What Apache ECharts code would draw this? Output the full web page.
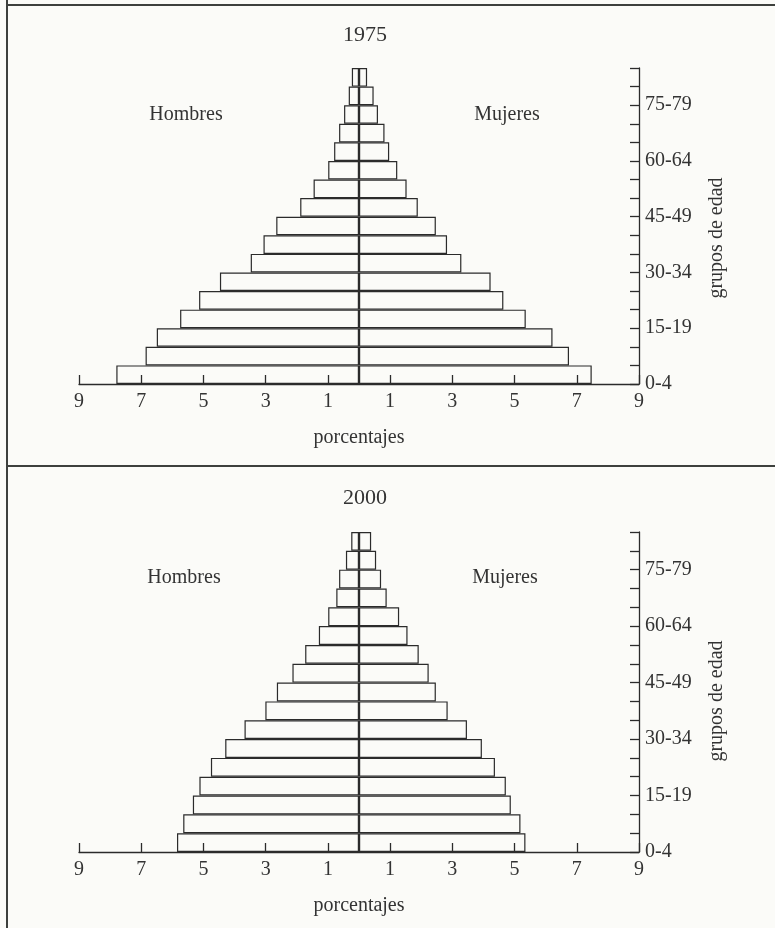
<!DOCTYPE html>
<html>
<head>
<meta charset="utf-8">
<title>Pirámides de población 1975 y 2000</title>
<script src="https://cdn.jsdelivr.net/npm/echarts@6/dist/echarts.min.js"></script>
<style>
  html, body { margin: 0; padding: 0; background: #fbfbf8; }
  #chart { width: 775px; height: 928px; }
</style>
</head>
<body>
<div id="chart"></div>
<script>
// grupos de edad, de abajo hacia arriba
var edades = ['0-4', '5-9', '10-14', '15-19', '20-24', '25-29', '30-34', '35-39', '40-44',
  '45-49', '50-54', '55-59', '60-64', '65-69', '70-74', '75-79', '80+']

// porcentajes
var hombres1975 = [7.8, 6.86, 6.5, 5.75, 5.14, 4.47, 3.48, 3.07, 2.66, 1.89, 1.46, 0.99, 0.8, 0.64, 0.48, 0.33, 0.23]
var mujeres1975 = [7.48, 6.75, 6.22, 5.36, 4.64, 4.23, 3.29, 2.83, 2.47, 1.89, 1.53, 1.23, 0.97, 0.82, 0.61, 0.47, 0.26]
var hombres2000 = [5.85, 5.65, 5.34, 5.13, 4.76, 4.3, 3.68, 3.01, 2.64, 2.14, 1.73, 1.29, 0.99, 0.73, 0.64, 0.42, 0.25]
var mujeres2000 = [5.35, 5.19, 4.88, 4.72, 4.37, 3.95, 3.47, 2.85, 2.47, 2.24, 1.92, 1.56, 1.29, 0.89, 0.71, 0.55, 0.39]

var ticksX = [-9, -7, -5, -3, -1, 1, 3, 5, 7, 9]

var fuente = 'Liberation Serif'
var tinta = '#2b2b2b'
var texto = '#333'

function ejeX(grid) {
  return {
    type: 'value',
    gridIndex: grid,
    min: -9,
    max: 9,
    name: 'porcentajes',
    nameLocation: 'middle',
    nameGap: 44,
    nameTextStyle: { fontFamily: fuente, fontSize: 20, color: texto },
    axisLine: { show: true, onZero: false, lineStyle: { color: tinta, width: 1.3 } },
    axisTick: { show: true, inside: true, length: 9, customValues: ticksX, lineStyle: { color: tinta, width: 1.3 } },
    axisLabel: {
      customValues: ticksX,
      margin: 8,
      fontFamily: fuente,
      fontSize: 20,
      color: texto,
      formatter: function(v) { return String(Math.abs(v)) }
    },
    splitLine: { show: false }
  }
}

function ejesY(grid) {
  return [{
    type: 'category',
    gridIndex: grid,
    data: edades,
    show: false
  }, {
    type: 'value',
    gridIndex: grid,
    position: 'right',
    min: 0,
    max: edades.length,
    interval: 1,
    axisLine: { show: true, onZero: false, lineStyle: { color: tinta, width: 1.3 } },
    axisTick: { show: true, inside: true, length: 9, lineStyle: { color: tinta, width: 1.3 } },
    axisLabel: {
      margin: 6,
      fontFamily: fuente,
      fontSize: 20,
      color: texto,
      formatter: function(v) { return v % 3 === 0 && v < 16 ? edades[v] : '' }
    },
    splitLine: { show: false }
  }]
}

function barras(nombre, datos, grid) {
  return {
    type: 'bar',
    name: nombre,
    xAxisIndex: grid,
    yAxisIndex: grid * 2,
    data: datos,
    barCategoryGap: '0%',
    barGap: '-100%',
    silent: true,
    itemStyle: { color: 'rgba(0,0,0,0)', borderColor: tinta, borderWidth: 1.2 }
  }
}

function negativo(arr) {
  return arr.map(function(v) { return -v })
}

function rotulo(txt, x, y, rot) {
  return {
    type: 'text',
    x: x,
    y: y,
    rotation: rot || 0,
    style: {
      text: txt,
      font: '20px "' + fuente + '"',
      fill: texto,
      align: 'center',
      verticalAlign: 'middle'
    }
  }
}

function linea(x1, y1, x2, y2) {
  return {
    type: 'line',
    shape: { x1: x1, y1: y1, x2: x2, y2: y2 },
    style: { stroke: '#3d403d', lineWidth: 2 }
  }
}

var chart = echarts.init(document.getElementById('chart'))

chart.setOption({
  backgroundColor: '#fbfbf8',
  animation: false,
  title: [
    { text: '1975', left: 360, top: 19, textAlign: 'center', textStyle: { fontFamily: fuente, fontSize: 22, fontWeight: 'normal', color: texto } },
    { text: '2000', left: 360, top: 482, textAlign: 'center', textStyle: { fontFamily: fuente, fontSize: 22, fontWeight: 'normal', color: texto } }
  ],
  grid: [
    { left: 79, top: 68, width: 560, height: 316 },
    { left: 79, top: 532, width: 560, height: 320 }
  ],
  xAxis: [ejeX(0), ejeX(1)],
  yAxis: ejesY(0).concat(ejesY(1)),
  series: [
    barras('Hombres', negativo(hombres1975), 0),
    barras('Mujeres', mujeres1975, 0),
    barras('Hombres', negativo(hombres2000), 1),
    barras('Mujeres', mujeres2000, 1)
  ],
  graphic: [
    linea(7, 0, 7, 928),
    linea(7, 5, 775, 5),
    linea(7, 466, 775, 466),
    rotulo('Hombres', 186, 115),
    rotulo('Mujeres', 507, 115),
    rotulo('Hombres', 184, 578),
    rotulo('Mujeres', 505, 578),
    rotulo('grupos de edad', 717, 238, Math.PI / 2),
    rotulo('grupos de edad', 717, 701, Math.PI / 2)
  ]
})
</script>
</body>
</html>
